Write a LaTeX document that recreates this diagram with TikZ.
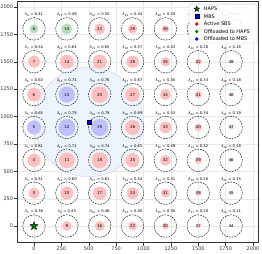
\documentclass[tikz,border=0pt]{standalone}
\usepackage{fontspec}
\setmainfont{DejaVu Sans}
\usetikzlibrary{shapes.geometric,positioning}
\definecolor{cover}{RGB}{238,244,252}
\definecolor{hapsgreen}{RGB}{0,128,0}

\begin{document}
\begin{tikzpicture}[x=0.1095pt, y=0.1095pt,
  ring/.style={circle, draw=black!85, dash pattern=on 1.8pt off 1pt, line width=0.5pt, minimum size=22.5pt, inner sep=0pt, label distance=0.3pt, font=\fontsize{4}{4}\selectfont},
  lamtext/.style={font=\fontsize{3.7}{4}\selectfont, inner sep=0.4pt},
  lam/.style 2 args={label={[lamtext]above:\textit{λ}\textsubscript{#1} = #2}},
  disc/.style={circle, inner sep=0pt, minimum size=#1*21.9pt},
  act/.style={disc=#1, fill=red!25},
  hap/.style={disc=#1, fill=hapsgreen!28},
  mbs/.style={disc=#1, fill=blue!25},
  hapsstar/.style={star, star points=5, star point ratio=2.4, fill=hapsgreen, draw=black, line width=0.4pt, inner sep=0pt, minimum size=#1},
  mbssquare/.style={rectangle, fill=blue, draw=black, line width=0.3pt, inner sep=0pt, minimum size=#1},
  dot/.style={circle, fill=#1, inner sep=0pt, minimum size=3.6pt},
  legtext/.style={anchor=west, inner sep=0pt, font=\fontsize{5}{5}\selectfont},
  ticklbl/.style={inner sep=1pt, font=\fontsize{5}{5}\selectfont}]

\useasboundingbox (-310.5,-246.6) rectangle (2082,2064);

% grid and coverage of the MBS
\draw[gray!18, line width=0.3pt, step=250] (-150,-150) grid (2050,2050);
\coordinate (mbsc) at (500,950);
\draw[blue!18, fill=cover, line width=0.5pt] (mbsc) circle (500);

% column x = 0
\node[ring, lam={2}{0.38}] (2) at (0,0) {};
\node[act=0.51] (d3) at (0,300) {};  \node[ring, lam={3}{0.51}] (3) at (d3) {3};
\node[act=0.61] (d4) at (0,600) {};  \node[ring, lam={4}{0.61}] (4) at (d4) {4};
\node[mbs=0.65] (d5) at (0,900) {};  \node[ring, lam={5}{0.65}] (5) at (d5) {5};
\node[act=0.63] (d6) at (0,1200) {}; \node[ring, lam={6}{0.63}] (6) at (d6) {6};
\node[act=0.54] (d7) at (0,1500) {}; \node[ring, lam={7}{0.54}] (7) at (d7) {7};
\node[hap=0.41] (d8) at (0,1800) {}; \node[ring, lam={8}{0.41}] (8) at (d8) {8};

% column x = 300
\node[act=0.45] (d9) at (300,0) {};     \node[ring, lam={9}{0.45}] (9) at (d9) {9};
\node[act=0.60] (d10) at (300,300) {};  \node[ring, lam={10}{0.60}] (10) at (d10) {10};
\node[act=0.72] (d11) at (300,600) {};  \node[ring, lam={11}{0.72}] (11) at (d11) {11};
\node[mbs=0.78] (d12) at (300,900) {};  \node[ring, lam={12}{0.78}] (12) at (d12) {12};
\node[mbs=0.74] (d13) at (300,1200) {}; \node[ring, lam={13}{0.74}] (13) at (d13) {13};
\node[act=0.64] (d14) at (300,1500) {}; \node[ring, lam={14}{0.64}] (14) at (d14) {14};
\node[hap=0.49] (d15) at (300,1800) {}; \node[ring, lam={15}{0.49}] (15) at (d15) {15};

% column x = 600
\node[act=0.46] (d16) at (600,0) {};    \node[ring, lam={16}{0.46}] (16) at (d16) {16};
\node[act=0.61] (d17) at (600,300) {};  \node[ring, lam={17}{0.61}] (17) at (d17) {17};
\node[act=0.74] (d18) at (600,600) {};  \node[ring, lam={18}{0.74}] (18) at (d18) {18};
\node[mbs=0.79] (d19) at (600,900) {};  \node[ring, lam={19}{0.79}] (19) at (d19) {19};
\node[act=0.76] (d20) at (600,1200) {}; \node[ring, lam={20}{0.76}] (20) at (d20) {20};
\node[act=0.65] (d21) at (600,1500) {}; \node[ring, lam={21}{0.65}] (21) at (d21) {21};
\node[act=0.50] (d22) at (600,1800) {}; \node[ring, lam={22}{0.50}] (22) at (d22) {22};

% column x = 900
\node[act=0.40] (d23) at (900,0) {};    \node[ring, lam={23}{0.40}] (23) at (d23) {23};
\node[act=0.54] (d24) at (900,300) {};  \node[ring, lam={24}{0.54}] (24) at (d24) {24};
\node[act=0.65] (d25) at (900,600) {};  \node[ring, lam={25}{0.65}] (25) at (d25) {25};
\node[act=0.69] (d26) at (900,900) {};  \node[ring, lam={26}{0.69}] (26) at (d26) {26};
\node[act=0.67] (d27) at (900,1200) {}; \node[ring, lam={27}{0.67}] (27) at (d27) {27};
\node[act=0.57] (d28) at (900,1500) {}; \node[ring, lam={28}{0.57}] (28) at (d28) {28};
\node[act=0.44] (d29) at (900,1800) {}; \node[ring, lam={29}{0.44}] (29) at (d29) {29};

% column x = 1200
\node[act=0.30] (d30) at (1200,0) {};    \node[ring, lam={30}{0.30}] (30) at (d30) {30};
\node[act=0.41] (d31) at (1200,300) {};  \node[ring, lam={31}{0.41}] (31) at (d31) {31};
\node[act=0.49] (d32) at (1200,600) {};  \node[ring, lam={32}{0.49}] (32) at (d32) {32};
\node[act=0.53] (d33) at (1200,900) {};  \node[ring, lam={33}{0.53}] (33) at (d33) {33};
\node[act=0.50] (d34) at (1200,1200) {}; \node[ring, lam={34}{0.50}] (34) at (d34) {34};
\node[act=0.43] (d35) at (1200,1500) {}; \node[ring, lam={35}{0.43}] (35) at (d35) {35};
\node[act=0.33] (d36) at (1200,1800) {}; \node[ring, lam={36}{0.33}] (36) at (d36) {36};

% column x = 1500
\node[act=0.20] (d37) at (1500,0) {};    \node[ring, lam={37}{0.20}] (37) at (d37) {37};
\node[act=0.26] (d38) at (1500,300) {};  \node[ring, lam={38}{0.26}] (38) at (d38) {38};
\node[act=0.32] (d39) at (1500,600) {};  \node[ring, lam={39}{0.32}] (39) at (d39) {39};
\node[act=0.34] (d40) at (1500,900) {};  \node[ring, lam={40}{0.34}] (40) at (d40) {40};
\node[act=0.33] (d41) at (1500,1200) {}; \node[ring, lam={41}{0.33}] (41) at (d41) {41};
\node[act=0.28] (d42) at (1500,1500) {}; \node[ring, lam={42}{0.28}] (42) at (d42) {42};
\node[act=0.22] (d43) at (1500,1800) {}; \node[ring, lam={43}{0.22}] (43) at (d43) {43};

% column x = 1800
\node[act=0.11] (d44) at (1800,0) {};    \node[ring, lam={44}{0.11}] (44) at (d44) {44};
\node[act=0.15] (d45) at (1800,300) {};  \node[ring, lam={45}{0.15}] (45) at (d45) {45};
\node[act=0.18] (d46) at (1800,600) {};  \node[ring, lam={46}{0.18}] (46) at (d46) {46};
\node[act=0.19] (d47) at (1800,900) {};  \node[ring, lam={47}{0.19}] (47) at (d47) {47};
\node[act=0.18] (d48) at (1800,1200) {}; \node[ring, lam={48}{0.18}] (48) at (d48) {48};
\node[act=0.16] (d49) at (1800,1500) {}; \node[ring, lam={49}{0.16}] (49) at (d49) {49};
\node[act=0.12] (d50) at (1800,1800) {}; \node[ring, lam={50}{0.12}] (50) at (d50) {50};

% HAPS and MBS
\node[hapsstar=8.5pt] (haps) at (2) {};
\node[mbssquare=4pt] (mbs) at (mbsc) {};

% axes
\draw[black!80, line width=0.5pt] (-150,-150) rectangle (2050,2050);
\foreach \t in {0,250,...,2000} {
  \draw[black!80, line width=0.4pt] (\t,-150) -- ++(0,-30) node[below, ticklbl] {\t};
  \draw[black!80, line width=0.4pt] (-150,\t) -- ++(-30,0) node[left, ticklbl] {\t};
}

% legend
\draw[gray!45, fill=white, fill opacity=0.85, rounded corners=1.5pt, line width=0.4pt] (1415,1671) rectangle (2037,2027);
\node[hapsstar=6pt] (k1) at (1486,1982) {};    \node[legtext] (t1) at (1550,1982) {HAPS};
\node[mbssquare=4pt] (k2) at (1486,1913) {};   \node[legtext] (t2) at (1550,1913) {MBS};
\node[dot=red] (k3) at (1486,1845) {};         \node[legtext] (t3) at (1550,1845) {Active SBS};
\node[dot=hapsgreen] (k4) at (1486,1776) {};   \node[legtext] (t4) at (1550,1776) {Offloaded to HAPS};
\node[dot=blue] (k5) at (1486,1708) {};        \node[legtext] (t5) at (1550,1708) {Offloaded to MBS};

\end{tikzpicture}
\end{document}
